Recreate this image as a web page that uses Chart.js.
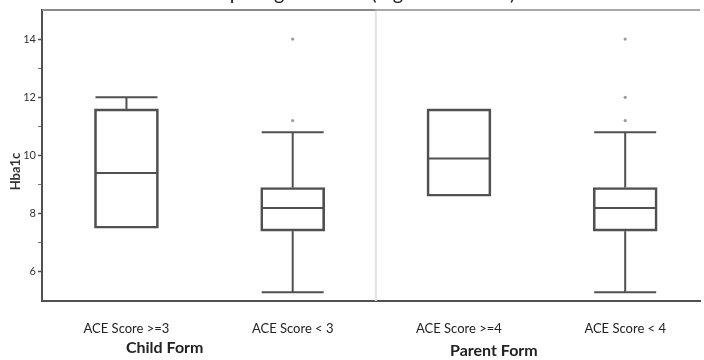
<!DOCTYPE html>
<html>
<head>
<meta charset="utf-8">
<script src="https://cdn.jsdelivr.net/npm/chart.js@4/dist/chart.umd.min.js"></script>
<style>
  html, body { margin: 0; padding: 0; background: #fff; }
  #wrap { width: 704px; height: 360px; position: relative; }
</style>
</head>
<body>
<div id="wrap"><canvas id="grafica"></canvas></div>
<script>
const titulo = 'Comparing acescore (higher vs lower)';
const grupos = ['ACE Score >=3', 'ACE Score < 3', 'ACE Score >=4', 'ACE Score < 4'];
const formularios = ['Child Form', 'Parent Form'];
const minimos  = [7.5, 5.3, 8.6, 5.3];
const q1       = [7.5, 7.4, 8.6, 7.4];
const medianas = [9.4, 8.2, 9.9, 8.2];
const q3       = [11.6, 8.9, 11.6, 8.9];
const maximos  = [12.0, 10.8, 11.6, 10.8];
const atipicos = [[], [11.2, 14.0], [], [11.2, 12.0, 14.0]];
const yEtiquetas = [6, 8, 10, 12, 14];
const yMarcas = [6, 7, 8, 9, 10, 11, 12, 13, 14];

const FUENTE = 'Lato, "Open Sans", sans-serif';
const LINEA = '#505050';
const ANCHO = 64;

// bigotes, medianas, marco superior, separador y textos sueltos
const cajasPlugin = {
  id: 'cajas',
  afterDatasetsDraw(chart) {
    const { ctx, scales: { x, y } } = chart;
    ctx.save();
    ctx.strokeStyle = LINEA;
    ctx.lineWidth = 2;
    const seg = (x1, y1, x2, y2) => { ctx.beginPath(); ctx.moveTo(x1, y1); ctx.lineTo(x2, y2); ctx.stroke(); };
    grupos.forEach((g, i) => {
      const cx = x.getPixelForValue(i);
      const hw = ANCHO / 2 - 1;
      seg(cx - hw, y.getPixelForValue(medianas[i]), cx + hw, y.getPixelForValue(medianas[i]));
      if (maximos[i] > q3[i]) {
        seg(cx, y.getPixelForValue(q3[i]), cx, y.getPixelForValue(maximos[i]));
        seg(cx - hw, y.getPixelForValue(maximos[i]), cx + hw, y.getPixelForValue(maximos[i]));
      }
      if (minimos[i] < q1[i]) {
        seg(cx, y.getPixelForValue(q1[i]), cx, y.getPixelForValue(minimos[i]));
        seg(cx - hw, y.getPixelForValue(minimos[i]), cx + hw, y.getPixelForValue(minimos[i]));
      }
    });
    ctx.restore();
  },
  afterDraw(chart) {
    const { ctx, chartArea: a, scales: { x } } = chart;
    ctx.save();
    const sx = x.getPixelForValue(1.5);
    ctx.strokeStyle = '#e2e2e2';
    ctx.lineWidth = 2;
    ctx.beginPath(); ctx.moveTo(sx, a.top); ctx.lineTo(sx, a.bottom); ctx.stroke();
    ctx.strokeStyle = '#8a8a8a';
    ctx.beginPath(); ctx.moveTo(a.left, a.top); ctx.lineTo(sx, a.top); ctx.stroke();
    ctx.strokeStyle = '#a8a8a8';
    ctx.beginPath(); ctx.moveTo(sx, a.top); ctx.lineTo(a.right, a.top); ctx.stroke();
    // titulo, cortado por arriba como en el original
    ctx.fillStyle = '#222';
    ctx.font = '20px ' + FUENTE;
    ctx.textAlign = 'center';
    ctx.textBaseline = 'alphabetic';
    ctx.fillText(titulo, 352, 0);
    // titulo eje y
    ctx.save();
    ctx.translate(16, (a.top + a.bottom) / 2 + 16);
    ctx.rotate(-Math.PI / 2);
    ctx.font = 'bold 13px ' + FUENTE;
    ctx.textBaseline = 'middle';
    ctx.fillStyle = '#333';
    ctx.fillText('Hba1c', 0, 0);
    ctx.restore();
    // formularios
    ctx.font = 'bold 16px ' + FUENTE;
    ctx.fillStyle = '#222';
    ctx.textBaseline = 'middle';
    ctx.fillText(formularios[0], x.getPixelForValue(0.23), 348);
    ctx.fillText(formularios[1], x.getPixelForValue(2.21), 351);
    ctx.restore();
  }
};

const puntos = [];
atipicos.forEach((arr, i) => arr.forEach(v => puntos.push({ x: i, y: v })));

new Chart(document.getElementById('grafica'), {
  type: 'bar',
  data: {
    datasets: [
      {
        label: 'Cajas',
        data: q1.map((v, i) => ({ x: i, y: [v, q3[i]] })),
        backgroundColor: 'rgba(255,255,255,0)',
        borderColor: LINEA,
        borderWidth: 2,
        borderSkipped: false,
        barThickness: ANCHO
      },
      {
        type: 'scatter',
        label: 'Atipicos',
        data: puntos,
        pointRadius: 1.6,
        pointBackgroundColor: '#9a9a9a',
        pointBorderWidth: 0
      }
    ]
  },
  options: {
    responsive: true,
    maintainAspectRatio: false,
    animation: false,
    layout: { padding: { top: 10, right: 0, left: 0, bottom: 0 } },
    plugins: { legend: { display: false }, tooltip: { enabled: false } },
    scales: {
      x: {
        type: 'linear',
        offset: false,
        min: -0.508,
        max: 3.45,
        grid: { display: false, offset: false },
        border: { display: true, color: LINEA, width: 2 },
        afterBuildTicks: s => { s.ticks = grupos.map((g, i) => ({ value: i })); },
        afterFit: s => { s.height = 59; },
        ticks: {
          autoSkip: false,
          maxRotation: 0,
          padding: 12,
          color: '#222',
          font: { family: FUENTE, size: 13 },
          callback: v => grupos[v]
        }
      },
      y: {
        min: 5,
        max: 15,
        afterBuildTicks: s => { s.ticks = yMarcas.map(v => ({ value: v })); },
        afterFit: s => { s.width = 42; },
        grid: {
          drawOnChartArea: false,
          drawTicks: true,
          tickLength: 4,
          tickColor: c => yEtiquetas.includes(c.tick && c.tick.value) ? '#555' : '#777',
          tickWidth: c => yEtiquetas.includes(c.tick && c.tick.value) ? 1.5 : 1
        },
        border: { display: true, color: LINEA, width: 2 },
        ticks: {
          padding: 2,
          color: '#333',
          font: { family: FUENTE, size: 11 },
          callback: v => yEtiquetas.includes(v) ? String(v) : ''
        }
      }
    }
  },
  plugins: [cajasPlugin]
});
</script>
</body>
</html>
